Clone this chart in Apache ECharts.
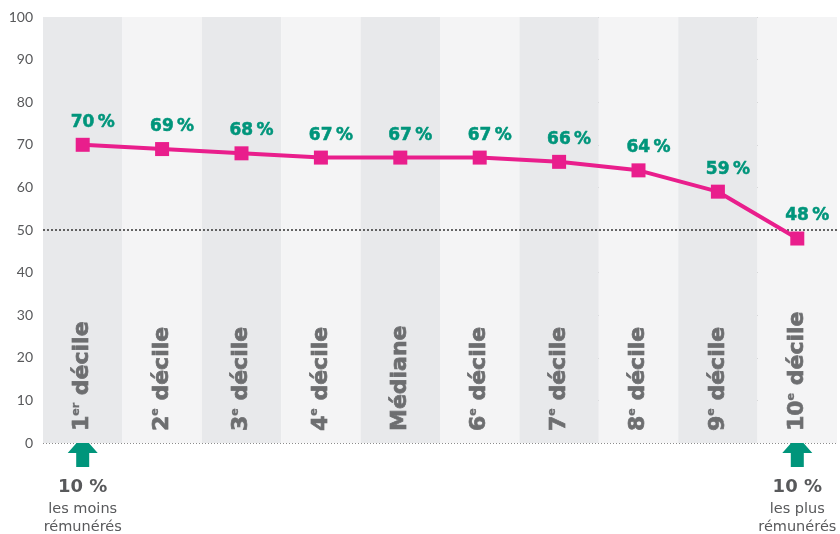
<!DOCTYPE html>
<html>
<head>
<meta charset="utf-8">
<script src="https://cdn.jsdelivr.net/npm/echarts@6/dist/echarts.min.js"></script>
<style>
  html, body { margin: 0; padding: 0; background: #ffffff; }
  #chart { width: 840px; height: 534px; }
</style>
</head>
<body>
<div id="chart"></div>
<script>
// Share by wage decile (in %)
const categories = ['1er décile', '2e décile', '3e décile', '4e décile', 'Médiane',
                    '6e décile', '7e décile', '8e décile', '9e décile', '10e décile'];
const values = [70, 69, 68, 67, 67, 67, 66, 64, 59, 48];
const yTicks = [0, 10, 20, 30, 40, 50, 60, 70, 80, 90, 100];
const referenceLevel = 50;

// Notes under the first and last decile
const noteCategories = ['1er décile', '10e décile'];
const noteTitles = ['10 %', '10 %'];
const noteLines = [['les moins', 'rémunérés'], ['les plus', 'rémunérés']];

const TEAL = '#00957b';
const PINK = '#e91e8c';
const GREY = '#58595b';
const LABEL_GREY = '#6d6e70';
const FONT = 'Lato, sans-serif';
const WIDE = 'DejaVu Sans';

function categoryLabel(name) {
  const m = /^(\d+)(er|e) (.*)$/.exec(name);
  if (!m) return '{n|' + name + '}';
  return '{n|' + m[1] + '}{s|' + m[2] + '}{n| ' + m[3] + '}';
}

const chart = echarts.init(document.getElementById('chart'), null, { renderer: 'canvas' });

chart.setOption({
  animation: false,
  backgroundColor: '#ffffff',
  grid: { left: 43, right: 3, top: 17, bottom: 91 },
  xAxis: {
    type: 'category',
    data: categories,
    boundaryGap: true,
    axisLine: { show: false },
    axisTick: { show: false },
    splitArea: { show: true, areaStyle: { color: ['#e8e9eb', '#f4f4f5'] } },
    axisLabel: {
      inside: true,
      rotate: 90,
      margin: 12,
      interval: 0,
      fontFamily: WIDE,
      fontWeight: 'bold',
      color: LABEL_GREY,
      formatter: categoryLabel,
      rich: {
        n: { fontFamily: WIDE, fontWeight: 'bold', fontSize: 22, color: LABEL_GREY, lineHeight: 24,
             textBorderColor: LABEL_GREY, textBorderWidth: 0.7 },
        s: { fontFamily: WIDE, fontWeight: 'bold', fontSize: 11, color: LABEL_GREY, lineHeight: 12,
             verticalAlign: 'top', textBorderColor: LABEL_GREY, textBorderWidth: 0.3 }
      }
    },
    z: 5
  },
  yAxis: {
    type: 'value',
    min: 0,
    max: 100,
    interval: 10,
    axisLine: { show: false },
    axisTick: { show: false },
    axisLabel: {
      color: GREY,
      fontFamily: FONT,
      fontSize: 14,
      margin: 10,
      formatter: v => (yTicks.indexOf(v) >= 0 ? String(v) : '')
    },
    splitLine: { show: true, lineStyle: { color: '#8c8c8c', width: 1, type: [1, 2] } }
  },
  series: [{
    type: 'line',
    data: values,
    symbol: 'rect',
    symbolSize: 14,
    lineStyle: { color: PINK, width: 4 },
    itemStyle: { color: PINK },
    z: 10,
    label: {
      show: true,
      position: 'top',
      distance: 7,
      offset: [10, 0],
      color: TEAL,
      fontFamily: WIDE,
      fontWeight: 'bold',
      fontSize: 17,
      textBorderColor: TEAL,
      textBorderWidth: 0.5,
      formatter: p => p.value + '\u2009%'
    },
    markLine: {
      silent: true,
      symbol: 'none',
      label: { show: false },
      lineStyle: { color: '#333333', width: 1.5, type: [2, 2] },
      data: [{ yAxis: referenceLevel }]
    }
  }]
});

// Arrows and captions below the axis, anchored on their category
function drawNotes() {
  const y0 = chart.convertToPixel({ yAxisIndex: 0 }, 0);
  const elements = [];
  noteCategories.forEach((cat, i) => {
    const cx = chart.convertToPixel({ xAxisIndex: 0 }, cat);
    const top = y0 - 7;
    elements.push({
      type: 'polygon',
      shape: {
        points: [
          [cx, top], [cx + 15, top + 17], [cx + 6.5, top + 17], [cx + 6.5, top + 31],
          [cx - 6.5, top + 31], [cx - 6.5, top + 17], [cx - 15, top + 17]
        ]
      },
      style: { fill: TEAL }
    });
    elements.push({
      type: 'text',
      x: cx, y: y0 + 44,
      style: {
        text: noteTitles[i], fill: GREY, font: 'bold 18px "' + WIDE + '"',
        align: 'center', verticalAlign: 'middle'
      }
    });
    noteLines[i].forEach((line, k) => {
      elements.push({
        type: 'text',
        x: cx, y: y0 + 66 + k * 18,
        style: {
          text: line, fill: GREY, font: '14.5px "' + WIDE + '"',
          align: 'center', verticalAlign: 'middle'
        }
      });
    });
  });
  chart.setOption({ graphic: { elements: elements } });
}
drawNotes();
</script>
</body>
</html>
